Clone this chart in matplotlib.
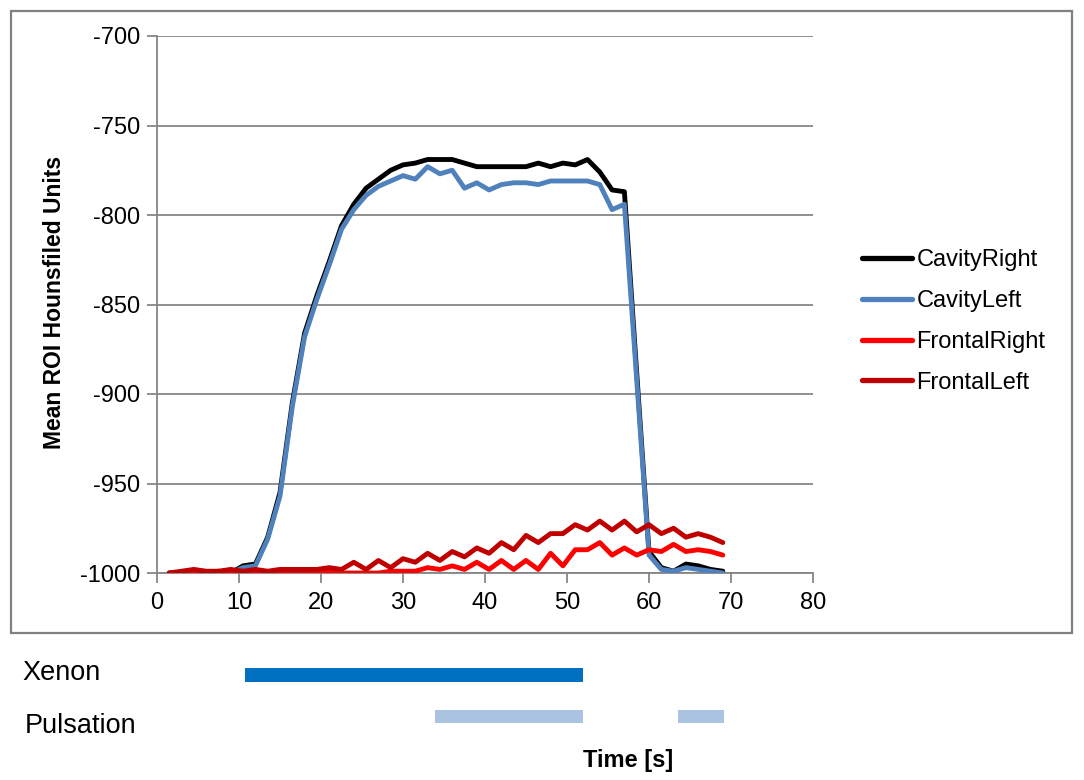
import numpy as np
import matplotlib
matplotlib.use('Agg')
import matplotlib.pyplot as plt
import matplotlib.patches as mpatches

## ==================================================================================================
# Data (time in s, mean ROI HU)
## ==================================================================================================
time_s = [1.5, 3, 4.5, 6, 7.5, 9, 10.5, 12, 13.5, 15, 16.5, 18, 19.5, 21, 22.5, 24, 25.5, 27, 28.5, 30,
		  31.5, 33, 34.5, 36, 37.5, 39, 40.5, 42, 43.5, 45, 46.5, 48, 49.5, 51, 52.5, 54, 55.5, 57, 58.5, 60,
		  61.5, 63, 64.5, 66, 67.5, 69]

cavity_right = [-1000, -1000, -1000, -1000, -1000, -1000, -996, -995, -980, -955, -905, -866, -845, -826, -806, -794,
				-785, -780, -775, -772, -771, -769, -769, -769, -771, -773, -773, -773, -773, -773, -771, -773,
				-771, -772, -769, -776, -786, -787, -888, -988, -997, -999, -995, -996, -998, -999]

cavity_left = [-1000, -1000, -1000, -1000, -1000, -1000, -997, -996, -981, -957, -907, -868, -847, -828, -808, -797,
			   -789, -784, -781, -778, -780, -773, -777, -775, -785, -782, -786, -783, -782, -782, -783, -781,
			   -781, -781, -781, -783, -797, -794, -892, -990, -998, -999, -997, -998, -999, -1000]

frontal_right = [-1000, -1000, -999, -1000, -999, -1000, -1000, -999, -1000, -999, -1000, -999, -1000, -999, -1000, -1000,
				 -1000, -1000, -999, -999, -999, -997, -998, -996, -998, -994, -998, -993, -998, -993, -998, -989,
				 -996, -987, -987, -983, -990, -986, -990, -987, -988, -984, -988, -987, -988, -990]

frontal_left = [-1000, -999, -998, -999, -999, -998, -999, -998, -999, -998, -998, -998, -998, -997, -998, -994,
				-998, -993, -997, -992, -994, -989, -993, -988, -991, -986, -989, -983, -987, -979, -983, -978,
				-978, -973, -976, -971, -976, -971, -977, -973, -978, -975, -980, -978, -980, -983]

series_names = ['CavityRight', 'CavityLeft', 'FrontalRight', 'FrontalLeft']
series_colors = ['#000000', '#4F81BD', '#FF0000', '#C00000']

x_ticks = [0, 10, 20, 30, 40, 50, 60, 70, 80]
y_ticks = [-1000, -950, -900, -850, -800, -750, -700]

## on/off periods under the chart (start, end) in s
xenon_on = [(10.7, 52.0)]
pulsation_on = [(33.9, 52.0), (63.5, 69.2)]

## ==================================================================================================
# Figure
## ==================================================================================================
plt.rcParams['font.family'] = ['Liberation Sans', 'DejaVu Sans']
plt.rcParams['axes.unicode_minus'] = False
W, H = 1084, 780
fig = plt.figure(figsize=(W / 100.0, H / 100.0), dpi=100)

def fx(px):
	return px / float(W)

def fy(py):
	return 1 - py / float(H)

gray = '#868686'

## outer chart frame
fig.patches.append(mpatches.Rectangle((fx(11), fy(633)), fx(1072) - fx(11), fy(11) - fy(633),
									  transform=fig.transFigure, fill=False, edgecolor='#808080', lw=1.6))

ax = fig.add_axes([fx(157), fy(573), fx(813) - fx(157), fy(36) - fy(573)])
all_series = [cavity_right, cavity_left, frontal_right, frontal_left]
for idx in [0, 1, 2, 3]:
	ax.plot(time_s, all_series[idx], color=series_colors[idx], lw=3.5, label=series_names[idx],
			solid_joinstyle='round', solid_capstyle='round', zorder=3 + idx)

ax.set_xlim(0, 80)
ax.set_ylim(-1000, -700)
ax.set_xticks(x_ticks)
ax.set_yticks(y_ticks)
ax.grid(axis='y', color=gray, lw=1.3)
ax.set_axisbelow(True)
for side in ['top', 'right']:
	ax.spines[side].set_visible(False)
for side in ['left', 'bottom']:
	ax.spines[side].set_color(gray)
	ax.spines[side].set_linewidth(1.3)
ax.tick_params(axis='both', colors=gray, length=7, width=1.3, labelcolor='black')
ax.tick_params(axis='y', labelsize=17, pad=5)
ax.tick_params(axis='x', labelsize=17, pad=7)

ax.set_ylabel('Mean ROI Hounsfiled Units', fontsize=16.5, fontweight='bold')
ax.yaxis.set_label_coords((55 - 157) / 656.0, (573 - 302) / 537.0)
ax.yaxis.label.set_va('center')
ax.set_xlabel('Time [s]', fontsize=17, fontweight='bold')
ax.xaxis.set_label_coords((628 - 157) / 656.0, (573 - 760) / 537.0)
ax.xaxis.label.set_va('center')

## legend
leg = ax.legend(loc='upper left', bbox_to_anchor=(fx(862), fy(249)), bbox_transform=fig.transFigure,
				frameon=False, fontsize=17, handlelength=2.1, handletextpad=0.2, labelspacing=0.8,
				borderpad=0, borderaxespad=0)
for line in leg.get_lines():
	line.set_linewidth(3.8)

## ==================================================================================================
# Xenon / Pulsation bars below the chart, on the same time scale
## ==================================================================================================
ax2 = fig.add_axes([fx(157), fy(740), fx(813) - fx(157), fy(650) - fy(740)])
ax2.set_xlim(0, 80)
ax2.set_ylim(1.566, -0.602)
ax2.axis('off')
ax2.barh([0] * len(xenon_on), [e - s for s, e in xenon_on], left=[s for s, e in xenon_on],
		 height=0.34, color='#0070C0')
ax2.barh([1] * len(pulsation_on), [e - s for s, e in pulsation_on], left=[s for s, e in pulsation_on],
		 height=0.31, color='#A9C3E1')

fig.text(fx(22), fy(680), 'Xenon', fontsize=19.5, va='baseline', ha='left')
fig.text(fx(25), fy(733), 'Pulsation', fontsize=19.5, va='baseline', ha='left')

fig.savefig('out.png', dpi=100)
